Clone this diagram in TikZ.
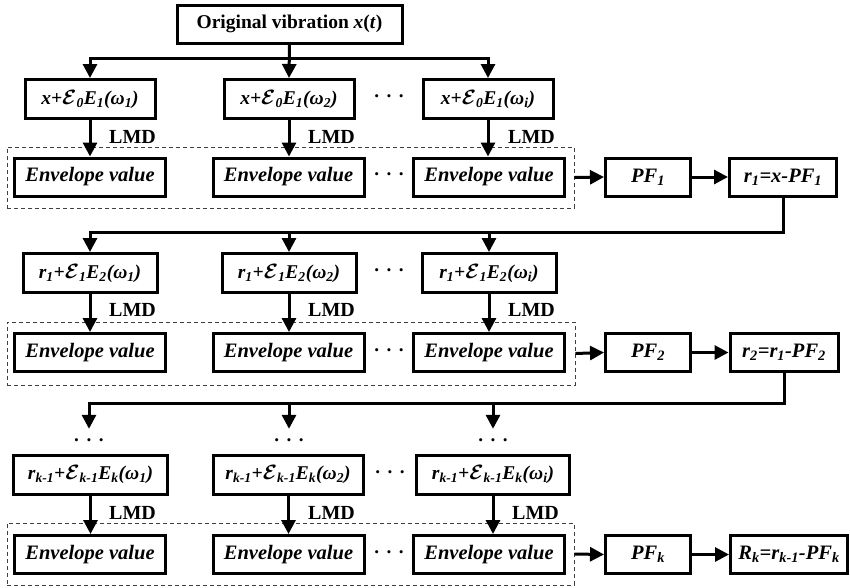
\documentclass[tikz,border=0pt]{standalone}
\usepackage{amsmath}
\usepackage{fontspec}
\setmainfont{Liberation Serif}
\usetikzlibrary{arrows.meta}
\newcommand\scrE{\ensuremath{\boldsymbol{\mathcal{E}}}}
\newcommand\sbs[1]{\textsubscript{#1}}
\newcommand\mydots{·\hspace{6pt}·\hspace{6pt}·}
\begin{document}
\begin{tikzpicture}[x=1pt,y=-1pt,
  box/.style={draw, line width=3pt, inner sep=0pt, minimum height=38pt,
    font=\fontsize{20.5}{24}\selectfont\bfseries\itshape},
  mbox/.style={box, minimum height=39pt, font=\fontsize{19.5}{23}\selectfont\bfseries\itshape},
  arr/.style={line width=3pt, -{Triangle[length=14pt,width=14pt]}},
  dbox/.style={draw=black!75, line width=0.8pt, dash pattern=on 4pt off 3pt, inner sep=0pt},
  lbl/.style={font=\fontsize{20}{24}\selectfont\bfseries, anchor=west, inner sep=0pt},
  dotnode/.style={font=\fontsize{19}{23}\selectfont\bfseries, inner sep=0pt, minimum height=28pt}
]
\useasboundingbox (0,0) rectangle (850,587);

% top
\node[box, minimum width=225pt, font=\fontsize{19.5}{23}\selectfont\bfseries] (top) at (289.5,24)
  {Original vibration \textit{x}(\textit{t})};

% ---------- row 1 ----------
\node[mbox, minimum width=130pt] (a1) at (90,99) {x+\scrE\sbs{0}E\sbs{1}(ω\sbs{1})};
\node[mbox, minimum width=130pt] (a2) at (289,99) {x+\scrE\sbs{0}E\sbs{1}(ω\sbs{2})};
\node[mbox, minimum width=130pt] (a3) at (488,99) {x+\scrE\sbs{0}E\sbs{1}(ω\sbs{i})};
\node[dotnode] (da) at (389,99) {\mydots};

\node[dbox, minimum width=567pt, minimum height=61pt] (g1) at (290.5,177.5) {};
\node[box, minimum width=151pt] (e1) at (90,177) {Envelope value};
\node[box, minimum width=151pt] (e2) at (288.5,177) {Envelope value};
\node[box, minimum width=151pt] (e3) at (489,177) {Envelope value};
\node[dotnode] (de) at (389,177) {\mydots};

\node[box, minimum width=85pt] (p1) at (648,177) {PF\sbs{1}};
\node[box, minimum width=107pt] (q1) at (783,177) {r\sbs{1}=x-PF\sbs{1}};

\node[lbl] (l1a) at (109,137) {LMD};
\node[lbl] (l1b) at (308,137) {LMD};
\node[lbl] (l1c) at (508,137) {LMD};

\coordinate (h1) at (0,58);
\draw[arr] (top.south) -- (a2.north);
\draw[arr] (a2.north |- h1) -| (a1.north);
\draw[arr] (a2.north |- h1) -| (a3.north);
\draw[arr] (a1.south) -- (e1.north);
\draw[arr] (a2.south) -- (a2.south |- e2.north);
\draw[arr] (a3.south) -- (a3.south |- e3.north);
\draw[arr] (g1.east) -- (p1.west);
\draw[arr] (p1.east) -- (q1.west);

% ---------- row 2 ----------
\node[mbox, minimum width=134pt] (b1) at (90,273) {r\sbs{1}+\scrE\sbs{1}E\sbs{2}(ω\sbs{1})};
\node[mbox, minimum width=134pt] (b2) at (289,273) {r\sbs{1}+\scrE\sbs{1}E\sbs{2}(ω\sbs{2})};
\node[mbox, minimum width=134pt] (b3) at (489,273) {r\sbs{1}+\scrE\sbs{1}E\sbs{2}(ω\sbs{i})};
\node[dotnode] (db) at (389,273) {\mydots};

\node[dbox, minimum width=568pt, minimum height=63pt] (g2) at (291,353.5) {};
\node[box, minimum width=151pt] (f1) at (90,352.5) {Envelope value};
\node[box, minimum width=151pt] (f2) at (288.5,352.5) {Envelope value};
\node[box, minimum width=151pt] (f3) at (489,352.5) {Envelope value};
\node[dotnode] (df) at (389,352.5) {\mydots};

\node[box, minimum width=85pt] (p2) at (648,352.5) {PF\sbs{2}};
\node[box, minimum width=108pt] (q2) at (784,352.5) {r\sbs{2}=r\sbs{1}-PF\sbs{2}};

\node[lbl] (l2a) at (109,310) {LMD};
\node[lbl] (l2b) at (308,310) {LMD};
\node[lbl] (l2c) at (508,310) {LMD};

\coordinate (h2) at (0,232);
\draw[arr] (q1.south) |- (b1.north |- h2) -- (b1.north);
\draw[arr] (b2.north |- h2) -- (b2.north);
\draw[arr] (b3.north |- h2) -- (b3.north);
\draw[arr] (b1.south) -- (f1.north);
\draw[arr] (b2.south) -- (b2.south |- f2.north);
\draw[arr] (b3.south) -- (b3.south |- f3.north);
\draw[arr] (g2.east) -- (p2.west);
\draw[arr] (p2.east) -- (q2.west);

% ---------- row 3 ----------
\node[dotnode] (k1) at (89,443) {\mydots};
\node[dotnode] (k2) at (289,443) {\mydots};
\node[dotnode] (k3) at (493,443) {\mydots};

\node[mbox, minimum width=154pt] (c1) at (90.5,474.5) {r\sbs{k-1}+\scrE\sbs{k-1}E\sbs{k}(ω\sbs{1})};
\node[mbox, minimum width=150pt] (c2) at (288,474.5) {r\sbs{k-1}+\scrE\sbs{k-1}E\sbs{k}(ω\sbs{2})};
\node[mbox, minimum width=153pt] (c3) at (493,474.5) {r\sbs{k-1}+\scrE\sbs{k-1}E\sbs{k}(ω\sbs{i})};
\node[dotnode] (dc) at (390,474.5) {\mydots};

\node[dbox, minimum width=567pt, minimum height=62pt] (g3) at (290.5,554) {};
\node[box, minimum width=151pt] (v1) at (90,554.5) {Envelope value};
\node[box, minimum width=151pt] (v2) at (288.5,554.5) {Envelope value};
\node[box, minimum width=151pt] (v3) at (489,554.5) {Envelope value};
\node[dotnode] (dv) at (389,554.5) {\mydots};

\node[box, minimum width=85pt] (p3) at (648,554.5) {PF\sbs{k}};
\node[box, minimum width=117pt] (q3) at (789,554.5) {R\sbs{k}=r\sbs{k-1}-PF\sbs{k}};

\node[lbl] (l3a) at (109,513) {LMD};
\node[lbl] (l3b) at (308,513) {LMD};
\node[lbl] (l3c) at (512,513) {LMD};

\coordinate (h3) at (0,403);
\draw[arr] (q2.south) |- (k1.north |- h3) -- (k1.north);
\draw[arr] (k2.north |- h3) -- (k2.north);
\draw[arr] (k3.north |- h3) -- (k3.north);
\draw[arr] (c1.south) -- (c1.south |- v1.north);
\draw[arr] (c2.south -| v2.north) -- (v2.north);
\draw[arr] (c3.south) -- (c3.south |- v3.north);
\draw[arr] (g3.east) -- (p3.west);
\draw[arr] (p3.east) -- (q3.west);
\end{tikzpicture}
\end{document}
